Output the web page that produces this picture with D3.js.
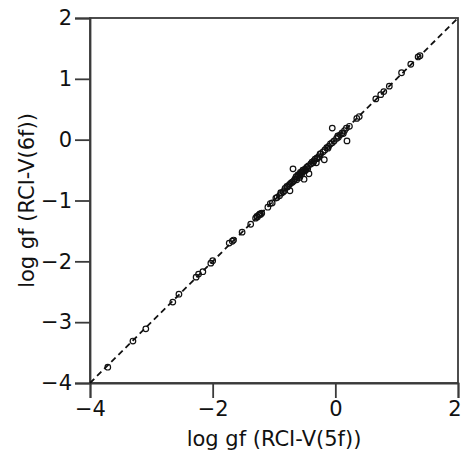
<!DOCTYPE html>
<html><head><meta charset="utf-8">
<script src="https://cdn.jsdelivr.net/npm/d3@7"></script>
<style>body{margin:0;background:#fff}svg{display:block}text{font-family:"DejaVu Sans",sans-serif}</style>
</head><body>
<script>
const xTicks = [-4, -2, 0, 2];
const yTicks = [-4, -3, -2, -1, 0, 1, 2];
const xLabel = "log gf (RCI-V(5f))";
const yLabel = "log gf (RCI-V(6f))";
const gf5 = [-3.71,-3.30,-3.09,-2.65,-2.55,-2.27,-2.23,-2.16,-2.03,-2.00,-1.73,-1.68,-1.66,-1.52,-1.38,-1.30,-1.27,-1.25,-1.23,-1.20,-1.10,-1.06,-1.03,-0.97,-0.95,-0.91,-0.88,-0.85,-0.82,-0.78,-0.76,-0.74,-0.72,-0.70,-0.68,-0.66,-0.62,-0.60,-0.58,-0.56,-0.54,-0.52,-0.50,-0.48,-0.46,-0.44,-0.40,-0.38,-0.35,-0.33,-0.30,-0.27,-0.24,-0.20,-0.17,-0.14,-0.11,-0.08,-0.05,-0.02,0.02,0.05,0.08,0.11,0.15,0.18,0.23,0.35,0.39,0.66,0.74,0.79,0.88,1.08,1.23,1.35,1.38,
  -0.05,0.19,-0.18,-0.69,-0.43,-0.51,-0.74,-0.31,
  -0.57,-0.53,-0.49,-0.47,-0.45,-0.55,-0.61,-0.64,-0.79,-0.83,-0.89,-1.22,-1.28,-0.36,-0.29,-0.25,-0.12,0.04,0.13,-0.63,-0.58];
const gf6 = [-3.74,-3.31,-3.11,-2.67,-2.54,-2.26,-2.21,-2.17,-2.03,-1.99,-1.70,-1.67,-1.65,-1.52,-1.39,-1.29,-1.27,-1.24,-1.22,-1.21,-1.11,-1.05,-1.04,-0.96,-0.95,-0.92,-0.88,-0.86,-0.80,-0.78,-0.75,-0.73,-0.71,-0.70,-0.68,-0.65,-0.62,-0.59,-0.58,-0.55,-0.53,-0.52,-0.49,-0.49,-0.45,-0.43,-0.40,-0.37,-0.35,-0.32,-0.30,-0.28,-0.23,-0.20,-0.17,-0.13,-0.11,-0.07,-0.05,-0.02,0.02,0.04,0.08,0.11,0.15,0.19,0.22,0.35,0.38,0.67,0.74,0.79,0.88,1.10,1.24,1.36,1.38,
  0.19,-0.02,-0.33,-0.48,-0.56,-0.65,-0.84,-0.38,
  -0.54,-0.50,-0.51,-0.46,-0.48,-0.57,-0.58,-0.61,-0.77,-0.84,-0.87,-1.23,-1.26,-0.38,-0.31,-0.24,-0.14,0.06,0.10,-0.66,-0.62];

const W = 463, H = 450;
const m = {left: 90, right: 5, top: 18, bottom: 67};
const svg = d3.select("body").append("svg").attr("width", W).attr("height", H);
const x = d3.scaleLinear().domain([-4, 2]).range([m.left, W - m.right]);
const y = d3.scaleLinear().domain([-4, 2]).range([H - m.bottom, m.top]);
const axisCol = "#3a3a3a";
const fmt = d => d < 0 ? "\u2212" + Math.abs(d) : String(d);

// frame
svg.append("rect").attr("x", x(-4)).attr("y", y(2)).attr("width", x(2) - x(-4)).attr("height", y(-4) - y(2))
  .attr("fill", "none").attr("stroke", axisCol).attr("stroke-width", 1.8);

const gx = svg.append("g").attr("transform", `translate(0,${y(-4)})`)
  .call(d3.axisBottom(x).tickValues(xTicks).tickSize(15).tickPadding(3).tickFormat(fmt));
const gy = svg.append("g").attr("transform", `translate(${x(-4)},0)`)
  .call(d3.axisLeft(y).tickValues(yTicks).tickSize(15).tickPadding(3).tickFormat(fmt));
[gx, gy].forEach(g => {
  g.select(".domain").attr("stroke", axisCol).attr("stroke-width", 1.8);
  g.selectAll(".tick line").attr("stroke", axisCol).attr("stroke-width", 1.8);
  g.selectAll(".tick text").attr("fill", "#111").attr("font-size", 21).attr("font-family", "DejaVu Sans");
});
// keep the last x tick label inside the window
gx.selectAll(".tick text").filter(d => d === 2).attr("text-anchor", "end").attr("dx", "3");

// diagonal
svg.append("line").attr("x1", x(-4)).attr("y1", y(-4)).attr("x2", x(2)).attr("y2", y(2))
  .attr("stroke", "#111").attr("stroke-width", 1.8).attr("stroke-dasharray", "6,4");

// points
const pts = gf5.map((v, i) => [v, gf6[i]]);
svg.append("g").selectAll("circle").data(pts).join("circle")
  .attr("cx", d => x(d[0])).attr("cy", d => y(d[1])).attr("r", 2.8)
  .attr("fill", "none").attr("stroke", "#111").attr("stroke-width", 1.2);

svg.append("text").attr("x", (x(-4) + x(2)) / 2).attr("y", 446).attr("text-anchor", "middle")
  .attr("font-size", 21).attr("fill", "#111").text(xLabel);
svg.append("text").attr("transform", `translate(34,${(y(-4) + y(2)) / 2}) rotate(-90)`).attr("text-anchor", "middle")
  .attr("font-size", 21).attr("fill", "#111").text(yLabel);
</script>
</body></html>
